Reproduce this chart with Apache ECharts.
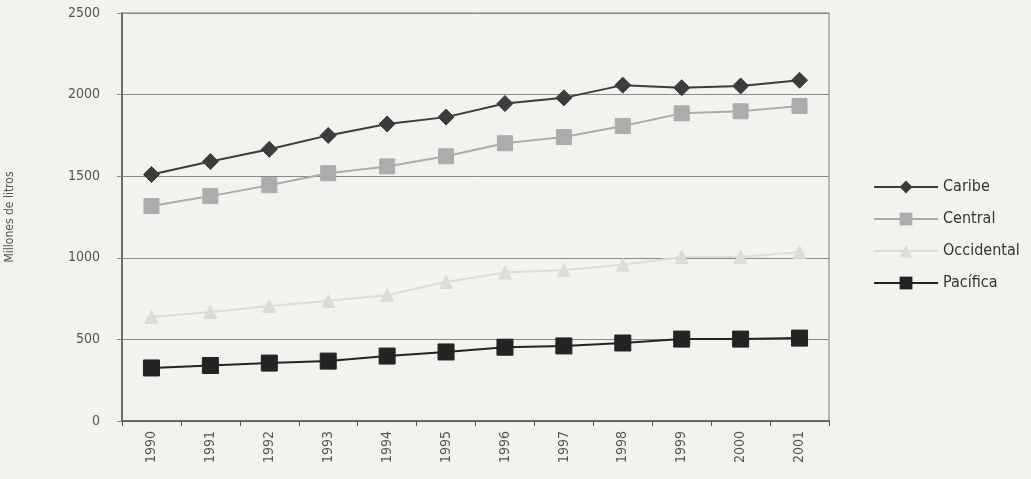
<!DOCTYPE html>
<html>
<head>
<meta charset="utf-8">
<script src="https://cdn.jsdelivr.net/npm/echarts@6/dist/echarts.min.js"></script>
<style>
  html, body { margin: 0; padding: 0; background: #f3f2ee; }
  #chart { width: 1031px; height: 479px; }
</style>
</head>
<body>
<div id="chart"></div>
<script>
const years = ['1990', '1991', '1992', '1993', '1994', '1995', '1996', '1997', '1998', '1999', '2000', '2001']
const caribe = [1510, 1590, 1665, 1750, 1820, 1862, 1945, 1980, 2058, 2042, 2053, 2088]
const central = [1317, 1378, 1445, 1518, 1560, 1622, 1702, 1740, 1808, 1885, 1898, 1930]
const occidental = [637, 668, 705, 735, 772, 852, 910, 925, 958, 1005, 1005, 1035]
const pacifica = [325, 340, 355, 367, 398, 423, 452, 460, 478, 502, 502, 508]
const yTicks = { min: 0, max: 2500, interval: 500 }

const font = "'DejaVu Sans Condensed', 'Liberation Sans Narrow', 'Liberation Sans', sans-serif"

const chart = echarts.init(document.getElementById('chart'))

const makeSeries = (name, data, symbol, size, color, width) => ({
  name,
  type: 'line',
  data,
  symbol,
  symbolSize: size,
  showSymbol: true,
  lineStyle: { color, width },
  itemStyle: { color, borderColor: color },
  z: 3
})

chart.setOption({
  backgroundColor: '#f3f2ee',
  animation: false,
  textStyle: { fontFamily: font },
  grid: {
    left: 122,
    right: 202,
    top: 13,
    bottom: 58,
    outerBoundsMode: 'none',
    containLabel: false,
    show: true,
    borderColor: '#7a7a7a',
    borderWidth: 1,
    backgroundColor: 'transparent'
  },
  legend: {
    orient: 'vertical',
    left: 868,
    top: 174,
    itemGap: 16,
    itemWidth: 64,
    itemHeight: 16,
    textStyle: { fontFamily: font, fontSize: 16, color: '#333' },
    data: ['Caribe', 'Central', 'Occidental', 'Pacífica']
  },
  xAxis: {
    type: 'category',
    data: years,
    boundaryGap: true,
    axisLine: { lineStyle: { color: '#555', width: 1.5 } },
    axisTick: { show: true, interval: 0, length: 5, lineStyle: { color: '#555' } },
    axisLabel: {
      rotate: 90,
      interval: 0,
      margin: 10,
      fontSize: 14,
      color: '#555',
      fontFamily: font
    }
  },
  yAxis: {
    type: 'value',
    min: yTicks.min,
    max: yTicks.max,
    interval: yTicks.interval,
    name: 'Millones de litros',
    nameLocation: 'middle',
    nameGap: 106,
    nameRotate: 90,
    nameTextStyle: { fontSize: 12, color: '#555', fontFamily: font },
    axisLine: { show: true, lineStyle: { color: '#555', width: 1.5 } },
    axisTick: { show: true, length: 5, lineStyle: { color: '#888' } },
    axisLabel: { margin: 22, fontSize: 14, color: '#555', fontFamily: font, formatter: v => String(v) },
    splitLine: { show: true, lineStyle: { color: '#8a8a8a', width: 1 } }
  },
  series: [
    makeSeries('Caribe', caribe, 'diamond', 16, '#3c3c3c', 2),
    makeSeries('Central', central, 'rect', 15, '#acacac', 2),
    makeSeries('Occidental', occidental, 'triangle', 13, '#dcdcd8', 2),
    makeSeries('Pacífica', pacifica, 'rect', 16, '#232323', 2)
  ]
})
</script>
</body>
</html>
